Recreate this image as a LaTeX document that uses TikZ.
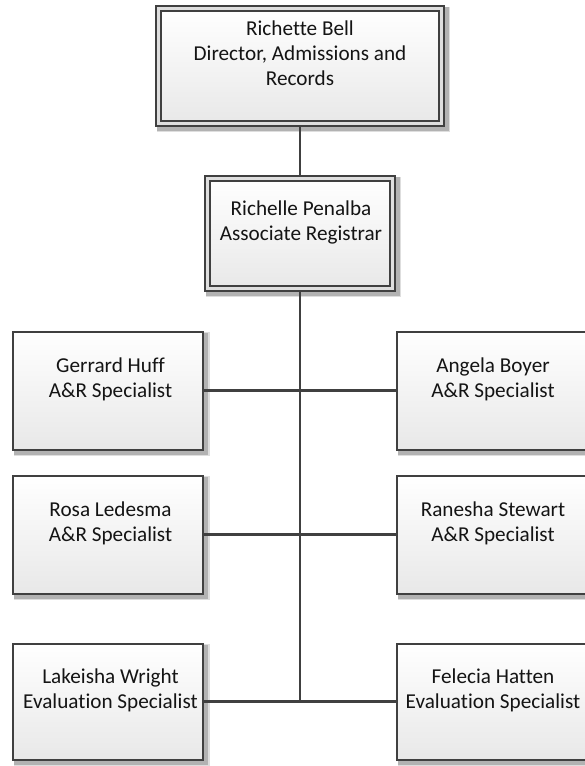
\documentclass[tikz,border=0pt]{standalone}
\usepackage{fontspec}
\setmainfont{Carlito}[Ligatures=NoCommon]
\usetikzlibrary{calc,backgrounds}

% two or more centred lines; the node's baseline is that of the first line
\newcommand\orglines[1]{\begin{tabular}[t]{@{}c@{}}#1\end{tabular}}

% soft offset shadow behind a box; #2 = half of the border's thickness
\newcommand\softshadow[2]{%
  \fill[black!13] ($(#1.north west)+(-#2+2.5,#2-2.5)$) rectangle ($(#1.south east)+(#2+4.5,-#2-4.5)$);
  \fill[black!30] ($(#1.north west)+(-#2+3,#2-3)$) rectangle ($(#1.south east)+(#2+3,-#2-3)$);
}

\tikzset{
  orgbox/.style={rectangle, draw=black!75, line width=2pt,
    top color=white, bottom color=black!9, inner sep=0pt},
  singlebox/.style={orgbox, minimum width=190pt, minimum height=118pt},
  headbox/.style={orgbox, line width=1.6pt, double=black!13, double distance=3.5pt},
  orgtext/.style={anchor=base, inner sep=0pt, text=black!92,
    font=\fontsize{21.2}{25}\selectfont},
  conn/.style={draw=black!75, line width=2.5pt}
}

\begin{document}
\begin{tikzpicture}[x=1pt,y=1pt]
\useasboundingbox (0,0) rectangle (585,-766);

% boxes
\node[headbox, minimum width=282.8pt, minimum height=114.8pt] (dir) at (300,-66) {};
\node[headbox, minimum width=185.3pt, minimum height=110.3pt] (reg) at (300,-233.5) {};

\node[singlebox] (gerrard) at (108,-390.5) {};
\node[singlebox] (angela)  at (492,-390.5) {};
\node[singlebox] (rosa)    at (108,-534.5) {};
\node[singlebox] (ranesha) at (492,-534.5) {};
\node[singlebox, minimum height=116pt] (lakeisha) at (108,-701.5) {};
\node[singlebox, minimum height=116pt] (felecia)  at (492,-701.5) {};

% shadows and connectors lie beneath the boxes
\begin{scope}[on background layer]
  \softshadow{dir}{3.35}
  \softshadow{reg}{3.35}
  \softshadow{gerrard}{1}
  \softshadow{angela}{1}
  \softshadow{rosa}{1}
  \softshadow{ranesha}{1}
  \softshadow{lakeisha}{1}
  \softshadow{felecia}{1}

  \coordinate (trunkend) at (reg.south |- lakeisha.east);
  \draw[conn] (dir.south) -- (reg.north);
  \draw[conn] (reg.south) -- (trunkend);
  \draw[conn] (gerrard.east) -- (angela.west);
  \draw[conn] (rosa.east) -- (ranesha.west);
  \draw[conn] (lakeisha.east) -- (felecia.west);
\end{scope}

% names and titles
\node[orgtext] (dir-t) at ($(dir.center)+(0,30.3)$)
  {\orglines{Richette Bell\\Director, Admissions and\\Records}};
\node[orgtext] (reg-t) at ($(reg.center)+(1,18.5)$)
  {\orglines{Richelle Penalba\\Associate Registrar}};
\node[orgtext] (gerrard-t) at ($(gerrard.center)+(2.5,18)$)
  {\orglines{Gerrard Huff\\A\&R Specialist}};
\node[orgtext] (angela-t) at ($(angela.center)+(1,18)$)
  {\orglines{Angela Boyer\\A\&R Specialist}};
\node[orgtext] (rosa-t) at ($(rosa.center)+(2.5,18)$)
  {\orglines{Rosa Ledesma\\A\&R Specialist}};
\node[orgtext] (ranesha-t) at ($(ranesha.center)+(1,18)$)
  {\orglines{Ranesha Stewart\\A\&R Specialist}};
\node[orgtext] (lakeisha-t) at ($(lakeisha.center)+(2.5,18)$)
  {\orglines{Lakeisha Wright\\Evaluation Specialist}};
\node[orgtext] (felecia-t) at ($(felecia.center)+(1,18)$)
  {\orglines{Felecia Hatten\\Evaluation Specialist}};
\end{tikzpicture}
\end{document}
